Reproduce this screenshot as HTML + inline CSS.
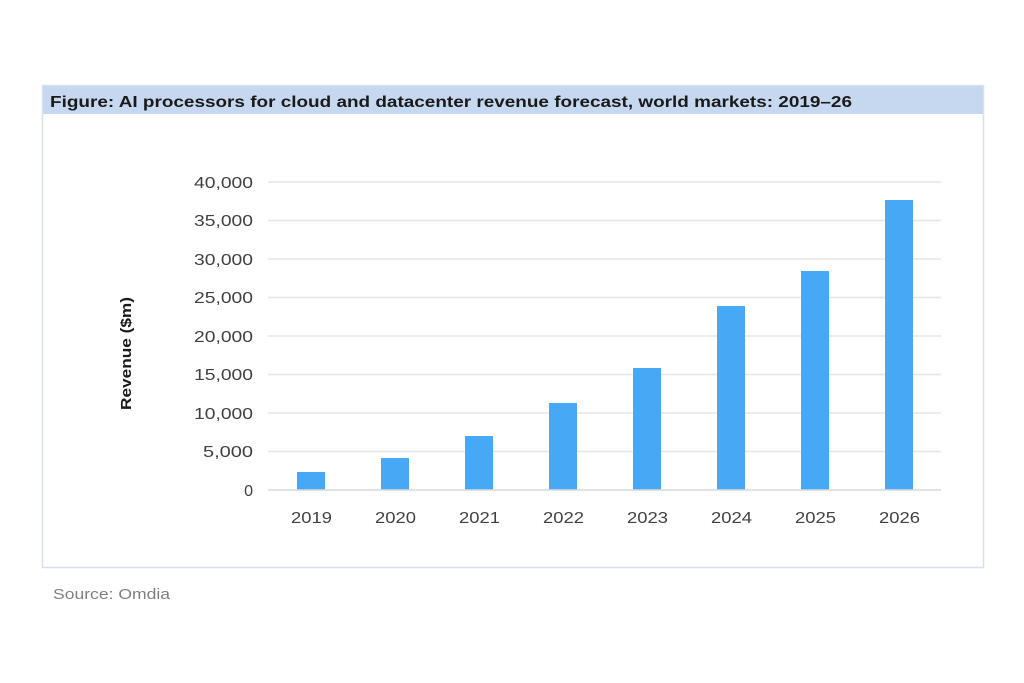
<!DOCTYPE html>
<html><head><meta charset="utf-8"><style>
html,body{margin:0;padding:0;background:#fff;}
svg{display:block;font-family:"Liberation Sans",Calibri,sans-serif;}
</style></head><body>
<svg width="1024" height="683" viewBox="0 0 1024 683">
<rect x="0" y="0" width="1024" height="683" fill="#fff"/>
<rect x="42.5" y="85.5" width="941" height="482" fill="#fff" stroke="#d6e2ef" stroke-width="1.5"/>
<rect x="43" y="86" width="940" height="28" fill="#c5d8f0"/>
<text x="50" y="107" font-size="16" font-weight="bold" fill="#1a1a1a" textLength="802" lengthAdjust="spacingAndGlyphs">Figure: AI processors for cloud and datacenter revenue forecast, world markets: 2019–26</text>
<g stroke="#e6e6e6" stroke-width="1.5">
<line x1="268" x2="941" y1="182" y2="182"/>
<line x1="268" x2="941" y1="220.5" y2="220.5"/>
<line x1="268" x2="941" y1="259" y2="259"/>
<line x1="268" x2="941" y1="297.5" y2="297.5"/>
<line x1="268" x2="941" y1="336" y2="336"/>
<line x1="268" x2="941" y1="374.5" y2="374.5"/>
<line x1="268" x2="941" y1="413" y2="413"/>
<line x1="268" x2="941" y1="451.5" y2="451.5"/>
</g>
<g fill="#47a8f5">
<rect x="297" y="472" width="28" height="18"/>
<rect x="381" y="458" width="28" height="32"/>
<rect x="465" y="436" width="28" height="54"/>
<rect x="549" y="403" width="28" height="87"/>
<rect x="633" y="368" width="28" height="122"/>
<rect x="717" y="306" width="28" height="184"/>
<rect x="801" y="271" width="28" height="219"/>
<rect x="885" y="200" width="28" height="290"/>
</g>
<line x1="268" x2="941" y1="490" y2="490" stroke="#d9d9d9" stroke-width="1.5"/>
<g font-size="16" fill="#404040">
<text x="194" y="188" textLength="59" lengthAdjust="spacingAndGlyphs">40,000</text>
<text x="194" y="226" textLength="59" lengthAdjust="spacingAndGlyphs">35,000</text>
<text x="194" y="265" textLength="59" lengthAdjust="spacingAndGlyphs">30,000</text>
<text x="194" y="303" textLength="59" lengthAdjust="spacingAndGlyphs">25,000</text>
<text x="194" y="342" textLength="59" lengthAdjust="spacingAndGlyphs">20,000</text>
<text x="194" y="380" textLength="59" lengthAdjust="spacingAndGlyphs">15,000</text>
<text x="194" y="419" textLength="59" lengthAdjust="spacingAndGlyphs">10,000</text>
<text x="203" y="457" textLength="50" lengthAdjust="spacingAndGlyphs">5,000</text>
<text x="253" y="496" text-anchor="end">0</text>
</g>
<g font-size="16" fill="#404040">
<text x="291" y="523" textLength="41" lengthAdjust="spacingAndGlyphs">2019</text>
<text x="375" y="523" textLength="41" lengthAdjust="spacingAndGlyphs">2020</text>
<text x="459" y="523" textLength="41" lengthAdjust="spacingAndGlyphs">2021</text>
<text x="543" y="523" textLength="41" lengthAdjust="spacingAndGlyphs">2022</text>
<text x="627" y="523" textLength="41" lengthAdjust="spacingAndGlyphs">2023</text>
<text x="711" y="523" textLength="41" lengthAdjust="spacingAndGlyphs">2024</text>
<text x="795" y="523" textLength="41" lengthAdjust="spacingAndGlyphs">2025</text>
<text x="879" y="523" textLength="41" lengthAdjust="spacingAndGlyphs">2026</text>
</g>
<text transform="translate(131,410) rotate(-90)" font-size="15" font-weight="bold" fill="#1a1a1a" textLength="113" lengthAdjust="spacingAndGlyphs">Revenue ($m)</text>
<text x="53" y="599" font-size="15" fill="#7f7f7f" textLength="117" lengthAdjust="spacingAndGlyphs">Source: Omdia</text>
</svg>
</body></html>
